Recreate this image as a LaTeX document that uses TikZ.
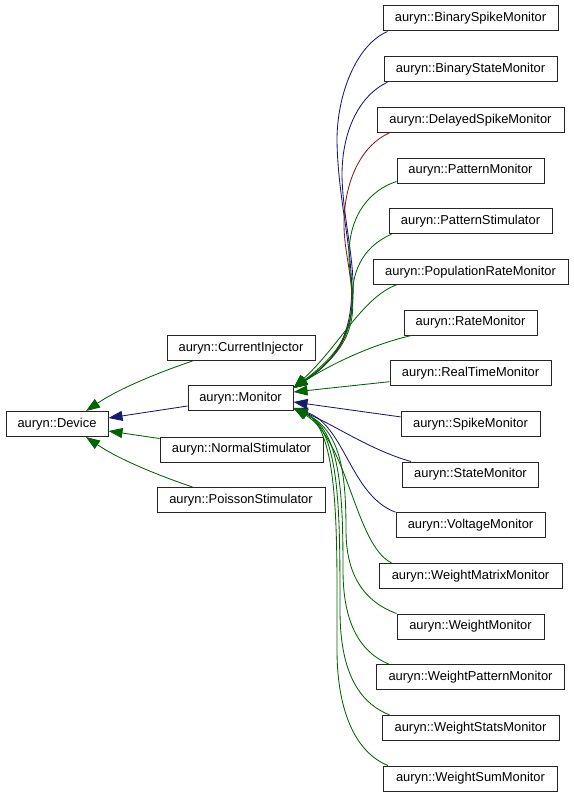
\documentclass[tikz,border=0pt]{standalone}
\usepackage{fontspec}
\setmainfont{Liberation Sans}
\usetikzlibrary{arrows.meta}
\definecolor{pubc}{RGB}{25,25,112}
\definecolor{protc}{RGB}{0,100,0}
\definecolor{privc}{RGB}{139,26,26}
\begin{document}
\begin{tikzpicture}[x=1pt,y=-1pt,
  cls/.style={draw=black!85,line width=1pt,fill=white,minimum height=25pt,inner sep=0pt,font=\fontsize{12.9}{14}\selectfont},
  inh/.style={line width=0.85pt,-{Triangle[length=14pt,width=10pt]}},
  pub/.style={inh,color=pubc},
  prot/.style={inh,color=protc},
  priv/.style={inh,color=privc}]
\useasboundingbox (0,0) rectangle (573,797);
% left column
\node[cls,minimum width=102pt] (dev) at (57,424) {auryn::Device};
\node[cls,minimum width=148pt] (ci) at (241,348) {auryn::CurrentInjector};
\node[cls,minimum width=105pt] (mon) at (240.5,398) {auryn::Monitor};
\node[cls,minimum width=163pt] (ns) at (241.5,449.5) {auryn::NormalStimulator};
\node[cls,minimum width=168pt] (pst) at (241,500) {auryn::PoissonStimulator};
% right column
\node[cls,minimum width=175pt] (bsm) at (470.5,18.5) {auryn::BinarySpikeMonitor};
\node[cls,minimum width=173pt] (bstm) at (470.5,69.2) {auryn::BinaryStateMonitor};
\node[cls,minimum width=187pt] (dsm) at (470.5,119.8) {auryn::DelayedSpikeMonitor};
\node[cls,minimum width=147pt] (pm) at (470.5,170.5) {auryn::PatternMonitor};
\node[cls,minimum width=163pt] (ps) at (470.5,221.2) {auryn::PatternStimulator};
\node[cls,minimum width=195pt] (prm) at (470.5,271.8) {auryn::PopulationRateMonitor};
\node[cls,minimum width=133pt] (rm) at (470.5,322.5) {auryn::RateMonitor};
\node[cls,minimum width=161pt] (rtm) at (470.5,373.2) {auryn::RealTimeMonitor};
\node[cls,minimum width=139pt] (sm) at (470.5,423.9) {auryn::SpikeMonitor};
\node[cls,minimum width=136pt] (stm) at (470.5,474.5) {auryn::StateMonitor};
\node[cls,minimum width=149pt] (vm) at (470.5,525.2) {auryn::VoltageMonitor};
\node[cls,minimum width=183pt] (wmm) at (470.5,575.9) {auryn::WeightMatrixMonitor};
\node[cls,minimum width=147pt] (wm) at (470.5,626.5) {auryn::WeightMonitor};
\node[cls,minimum width=188pt] (wpm) at (470.5,677.2) {auryn::WeightPatternMonitor};
\node[cls,minimum width=177pt] (wstm) at (470.5,727.9) {auryn::WeightStatsMonitor};
\node[cls,minimum width=174pt] (wsum) at (470.5,778.5) {auryn::WeightSumMonitor};
% edges to Device
\draw[prot] ([xshift=26pt]ci.south west) .. controls (160,372) and (120,388) .. ([xshift=29pt]dev.north);
\draw[pub] ([yshift=-8pt]mon.west) -- ([yshift=6pt]dev.east);
\draw[prot] ([yshift=-2pt]ns.north west) -- ([yshift=-7pt]dev.east);
\draw[prot] ([xshift=36pt]pst.north west) .. controls (160,476) and (120,460) .. ([xshift=29pt]dev.south);
% edges to Monitor (upper)
\draw[pub] ([xshift=5pt]bsm.south west) .. controls (356,45) and (337,95) .. (337,140) .. controls (338,240) and (385,330) .. ([yshift=10pt]mon.east);
\draw[pub] ([xshift=4pt]bstm.south west) .. controls (360,95) and (342,130) .. (342,175) .. controls (343,250) and (383,330) .. ([yshift=10pt]mon.east);
\draw[priv] ([xshift=13pt]dsm.south west) .. controls (362,145) and (344,180) .. (344,225) .. controls (344,275) and (378,332) .. ([yshift=10pt]mon.east);
\draw[prot] ([yshift=2pt]pm.south west) .. controls (370,190) and (349,215) .. (349,255) .. controls (349,295) and (372,335) .. ([yshift=10pt]mon.east);
\draw[prot] ([xshift=3pt]ps.south west) .. controls (360,248) and (352,275) .. (352,300) .. controls (352,325) and (345,350) .. ([yshift=10pt]mon.east);
\draw[prot] ([xshift=24pt]prm.south west) .. controls (362,298) and (340,345) .. ([yshift=10pt]mon.east);
\draw[prot] ([xshift=8pt]rm.south west) .. controls (370,345) and (330,365) .. ([yshift=10pt]mon.east);
\draw[prot] ([yshift=-8.5pt]rtm.west) -- ([yshift=6pt]mon.east);
\draw[pub] ([yshift=7pt]sm.west) -- ([yshift=-4pt]mon.east);
% edges to Monitor (lower)
\draw[pub] ([xshift=9pt]stm.north west) .. controls (370,450) and (335,425) .. ([yshift=-10pt]mon.east);
\draw[pub] (vm.north west) .. controls (350,495) and (345,425) .. ([yshift=-10pt]mon.east);
\draw[prot] ([xshift=13pt]wmm.north west) .. controls (355,545) and (348,440) .. ([yshift=-10pt]mon.east);
\draw[prot] (wm.north west) .. controls (360,600) and (346,570) .. (346,530) .. controls (346,470) and (340,430) .. ([yshift=-10pt]mon.east);
\draw[prot] ([xshift=13pt]wpm.north west) .. controls (355,650) and (343,615) .. (343,570) .. controls (343,490) and (340,430) .. ([yshift=-10pt]mon.east);
\draw[prot] ([xshift=8pt]wstm.north west) .. controls (352,700) and (340,660) .. (340,610) .. controls (340,510) and (340,430) .. ([yshift=-10pt]mon.east);
\draw[prot] ([xshift=5pt]wsum.north west) .. controls (350,750) and (337,700) .. (337,650) .. controls (337,540) and (340,430) .. ([yshift=-10pt]mon.east);
\end{tikzpicture}
\end{document}
